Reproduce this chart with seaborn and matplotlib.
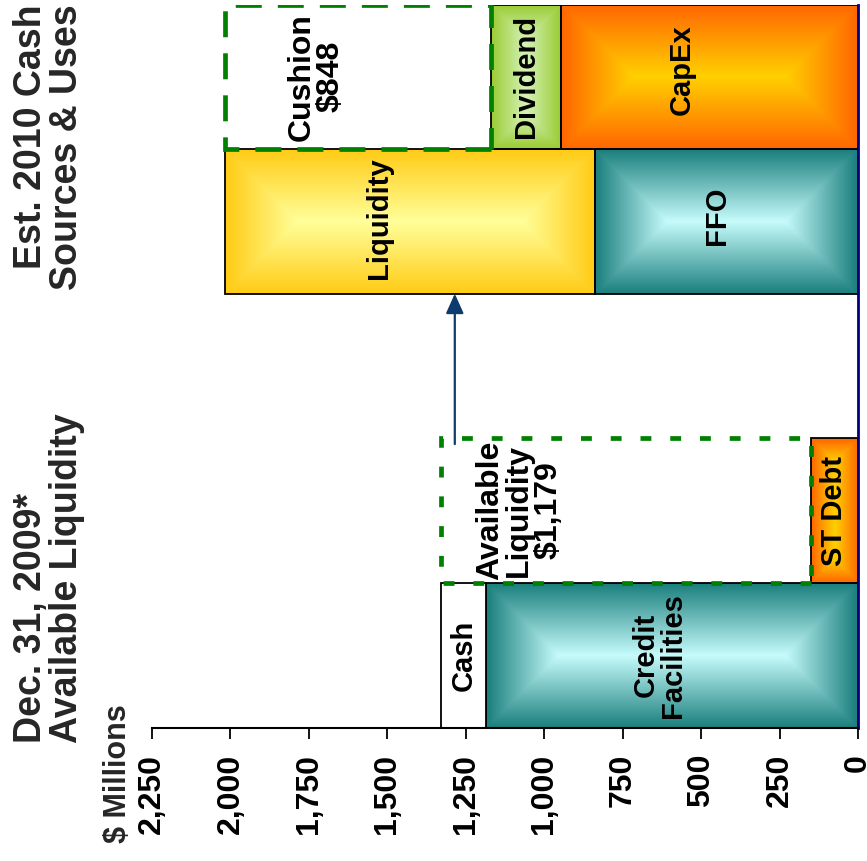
import numpy as np
import pandas as pd
import matplotlib
matplotlib.use("Agg")
import matplotlib.pyplot as plt
from matplotlib.colors import LinearSegmentedColormap
import seaborn as sns

# ---------------------------------------------------------------- data ($M)
# Dec. 31, 2009 liquidity sources
sources_2009_labels = ["Credit\nFacilities", "Cash"]
sources_2009_values = [1185, 144]
# Dec. 31, 2009 short-term debt vs. what is left available
uses_2009_labels = ["ST Debt", "Available\nLiquidity\n$1,179"]
uses_2009_values = [150, 1179]
# Est. 2010 cash sources
sources_2010_labels = ["FFO", "Liquidity"]
sources_2010_values = [838, 1179]
# Est. 2010 cash uses
uses_2010_labels = ["CapEx", "Dividend", "Cushion\n$848"]
uses_2010_values = [946, 223, 848]

tick_values = [0, 250, 500, 750, 1000, 1250, 1500, 1750, 2000, 2250]
arrow_value = 1285

# ---------------------------------------------------------------- styling
TEAL = ("#c6fbfb", "#1a7f7d")
ORANGE = ("#ffd000", "#ff6600")
GOLD = ("#ffff9a", "#ffcb14")
GREEN = ("#d6f2b8", "#99cc33")
DASH_GREEN = "#008000"

looks = {
    "Credit\nFacilities": ("gradient", TEAL),
    "Cash": ("plain", None),
    "ST Debt": ("gradient", ORANGE),
    "Available\nLiquidity\n$1,179": ("dashed", (0, (2.3, 4.0))),
    "FFO": ("gradient", TEAL),
    "Liquidity": ("gradient", GOLD),
    "CapEx": ("gradient", ORANGE),
    "Dividend": ("gradient", GREEN),
    "Cushion\n$848": ("dashed", (0, (5.5, 3.4))),
}
# label nudges: (along value axis in $M, across bars in slot units)
nudges = {
    "Credit\nFacilities": (40, 0.0),
    "Available\nLiquidity\n$1,179": (340, 0.0),
    "FFO": (30, 0.04),
    "Liquidity": (100, 0.02),
    "CapEx": (90, 0.05),
    "Cushion\n$848": (135, 0.0),
}
label_sizes = {
    "Available\nLiquidity\n$1,179": 23,
    "Cushion\n$848": 23,
}

sns.set_theme(style="white")
plt.rcParams["font.family"] = ["Liberation Sans", "DejaVu Sans"]
plt.rcParams["font.weight"] = "bold"

W, H = 867, 861
fig = plt.figure(figsize=(W / 100, H / 100), dpi=100)
fig.patch.set_facecolor("white")
ax = fig.add_axes([152 / W, 1 - 727.5 / H, (858 - 152) / W, (727.5 - 4.5) / H])
ax.set_facecolor("white")

groups = [
    (0, sources_2009_labels, sources_2009_values),
    (1, uses_2009_labels, uses_2009_values),
    (3, sources_2010_labels, sources_2010_values),
    (4, uses_2010_labels, uses_2010_values),
]
rows = []
for slot, labels, values in groups:
    start = 0
    for lab, val in zip(labels, values):
        rows.append(dict(slot=slot, segment=lab, value=val, start=start))
        start += val
df = pd.DataFrame(rows)

# one seaborn bar per segment, then slide it to where its stack segment begins
bars = []
for _, r in df.iterrows():
    sns.barplot(x=[r["value"]], y=[r["slot"]], orient="h", native_scale=True,
                width=1.0, color="white", errorbar=None, ax=ax)
    patch = ax.patches[-1]
    patch.set_x(r["start"])
    bars.append((r, patch))

ax.set_xlim(2250, 0)
ax.set_ylim(-0.5, 4.5)
fig.canvas.draw()


def shade(patch, inner, outer, n=220):
    """Fill a bar with a light core fading to a darker rim."""
    x0, y0 = patch.get_x(), patch.get_y()
    w, h = patch.get_width(), patch.get_height()
    (px0, py0), (px1, py1) = ax.transData.transform([(x0, y0), (x0 + w, y0 + h)])
    pw, ph = abs(px1 - px0), abs(py1 - py0)
    xs = np.linspace(0, pw, n)
    ys = np.linspace(0, ph, n)
    X, Y = np.meshgrid(xs, ys)
    dist = np.minimum(np.minimum(X, pw - X), np.minimum(Y, ph - Y))
    t = 1 - dist / (min(pw, ph) / 2)
    cmap = LinearSegmentedColormap.from_list("rim", [inner, outer])
    im = ax.imshow(t, cmap=cmap, vmin=0, vmax=1, origin="lower",
                   extent=(x0, x0 + w, y0, y0 + h), aspect="auto",
                   interpolation="bilinear", zorder=1.5)
    im.set_clip_path(patch)


for r, patch in bars:
    kind, spec = looks[r["segment"]]
    if kind == "gradient":
        patch.set_facecolor("none")
        patch.set_edgecolor("black")
        patch.set_linewidth(1.3)
        patch.set_zorder(3)
        shade(patch, *spec)
    elif kind == "plain":
        patch.set_facecolor("white")
        patch.set_edgecolor("black")
        patch.set_linewidth(1.3)
        patch.set_zorder(3)
    else:
        patch.set_facecolor("none")
        patch.set_edgecolor(DASH_GREEN)
        patch.set_linewidth(3.4)
        patch.set_linestyle(spec)
        patch.set_zorder(4)

    dx, dy = nudges.get(r["segment"], (0, 0))
    ax.text(r["start"] + r["value"] / 2 + dx, r["slot"] + dy, r["segment"],
            rotation=90, ha="center", va="center",
            fontsize=label_sizes.get(r["segment"], 21),
            fontweight="bold", linespacing=0.95, color="black", zorder=6)

# arrow carrying the available liquidity into the 2010 sources
ax.annotate("", xy=(arrow_value, 2.5), xytext=(arrow_value, 1.46),
            arrowprops=dict(arrowstyle="-|>,head_length=0.6,head_width=0.27",
                            color="#0d3b6e", lw=1.6, mutation_scale=20,
                            shrinkA=0, shrinkB=0), zorder=5)

ax.set_xlim(2250, 0)
ax.set_ylim(-0.5, 4.5)
ax.set_xticks(tick_values)
ax.set_xticklabels([f"{v:,}" for v in tick_values], rotation=90,
                   fontsize=23, fontweight="bold")
ax.set_yticks([])
ax.set_xlabel("")
ax.set_ylabel("")
ax.tick_params(axis="x", direction="out", length=8, width=1.3, pad=11,
               bottom=True, colors="black")
for side in ("top", "left"):
    ax.spines[side].set_visible(False)
ax.spines["bottom"].set_color("black")
ax.spines["bottom"].set_linewidth(1.5)
ax.spines["right"].set_color("#000080")
ax.spines["right"].set_linewidth(2)
ax.spines["bottom"].set_zorder(7)
ax.spines["right"].set_zorder(7)

fig.text(13 / W, 1 - 743 / H, "Dec. 31, 2009*\nAvailable Liquidity",
         rotation=90, ha="left", va="bottom", multialignment="left",
         fontsize=27, fontweight="bold", linespacing=1.0)
fig.text(13 / W, 1 - 4 / H, "Est. 2010 Cash\nSources & Uses",
         rotation=90, ha="left", va="top", multialignment="right",
         fontsize=27, fontweight="bold", linespacing=1.0)
fig.text(103 / W, 1 - 843 / H, "$ Millions", rotation=90, ha="left",
         va="bottom", fontsize=22, fontweight="bold")

fig.savefig("out.png", dpi=100, facecolor="white")
